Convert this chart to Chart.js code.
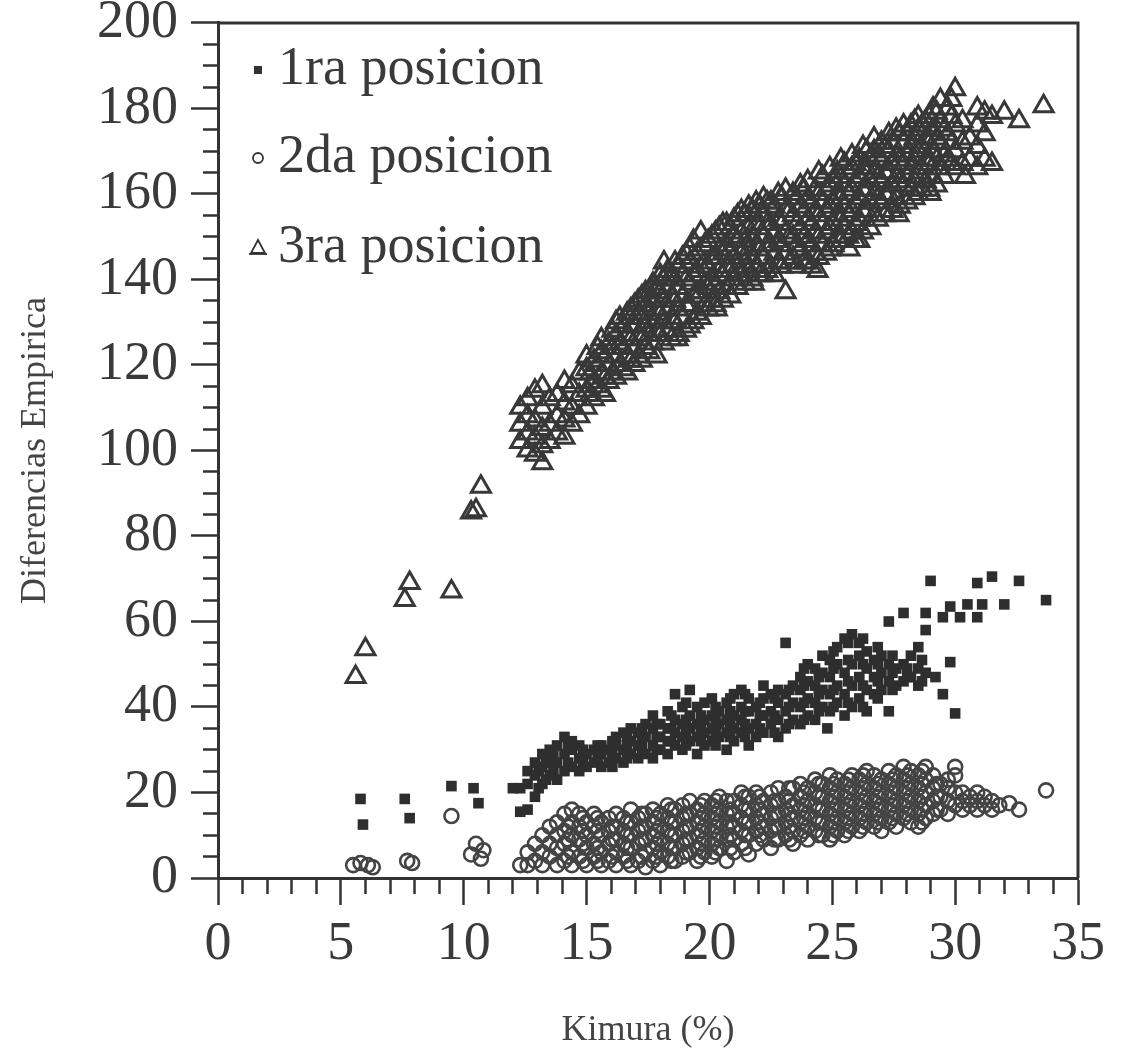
<!DOCTYPE html>
<html>
<head>
<meta charset="utf-8">
<script src="https://cdn.jsdelivr.net/npm/chart.js@4.4.0/dist/chart.umd.min.js"></script>
<style>
  html, body { margin: 0; padding: 0; background: #fff; }
</style>
</head>
<body>
<canvas id="chart" width="1122" height="1064"></canvas>
<script>
// tick labels
const xTickLabels = [0, 5, 10, 15, 20, 25, 30, 35];
const yTickLabels = [0, 20, 40, 60, 80, 100, 120, 140, 160, 180, 200];

const seriesNames = ['1ra posicion', '2da posicion', '3ra posicion'];

// 1ra posicion (squares) [Kimura %, diferencia]
const pos1 = [
  [5.8, 18.5], [5.9, 12.5], [7.6, 18.5], [7.8, 14], [9.5, 21.5], [10.4, 21], [10.6, 17.5],
  [12.0, 21], [12.3, 15.5], [12.3, 21], [12.6, 16], [12.6, 22], [12.6, 25],
  [12.9, 19], [12.9, 24], [12.9, 27], [13.2, 22], [13.2, 26], [13.2, 29],
  [13.5, 24], [13.5, 27], [13.5, 30], [13.8, 23], [13.8, 27], [13.8, 31],
  [14.1, 25], [14.1, 29], [14.1, 33], [14.4, 26], [14.4, 30], [14.4, 32],
  [14.7, 25], [14.7, 28], [14.7, 31], [15.0, 26], [15.0, 29], [15.3, 27], [15.3, 30],
  [15.6, 26], [15.6, 29], [15.6, 31], [15.9, 27], [15.9, 30],
  [16.2, 28], [16.2, 31], [16.2, 33], [16.5, 27], [16.5, 30], [16.5, 34],
  [16.8, 29], [16.8, 32], [16.8, 35], [17.1, 28], [17.1, 31], [17.1, 34],
  [17.4, 29], [17.4, 33], [17.4, 36], [17.7, 28], [17.7, 31], [17.7, 35], [17.7, 38],
  [18.0, 30], [18.0, 33], [18.0, 36], [18.3, 29], [18.3, 32], [18.3, 35], [18.3, 39],
  [18.6, 31], [18.6, 34], [18.6, 37], [18.6, 43], [18.9, 30], [18.9, 33], [18.9, 36], [18.9, 40],
  [19.2, 32], [19.2, 35], [19.2, 38], [19.2, 44], [19.5, 29], [19.5, 33], [19.5, 36], [19.5, 40],
  [19.8, 31], [19.8, 34], [19.8, 37], [19.8, 41], [20.1, 32], [20.1, 35], [20.1, 38], [20.1, 42],
  [20.4, 33], [20.4, 36], [20.4, 39], [20.7, 30], [20.7, 34], [20.7, 37], [20.7, 41],
  [21.0, 32], [21.0, 35], [21.0, 38], [21.0, 43], [21.3, 34], [21.3, 37], [21.3, 40], [21.3, 44],
  [21.6, 31], [21.6, 35], [21.6, 39], [21.6, 42], [21.9, 33], [21.9, 36], [21.9, 40],
  [22.2, 34], [22.2, 38], [22.2, 42], [22.2, 45], [22.5, 36], [22.5, 39], [22.5, 43],
  [22.8, 33], [22.8, 37], [22.8, 41], [22.8, 44], [23.1, 35], [23.1, 39], [23.1, 43], [23.1, 55],
  [23.4, 37], [23.4, 41], [23.4, 45], [23.7, 36], [23.7, 40], [23.7, 44], [23.7, 47],
  [24.0, 38], [24.0, 42], [24.0, 46], [24.0, 50], [24.3, 37], [24.3, 41], [24.3, 45], [24.3, 49],
  [24.6, 40], [24.6, 44], [24.6, 48], [24.6, 52], [24.8, 35],
  [24.9, 39], [24.9, 43], [24.9, 47], [24.9, 51], [25.2, 41], [25.2, 45], [25.2, 50], [25.2, 54],
  [25.5, 38], [25.5, 43], [25.5, 48], [25.5, 56], [25.8, 40], [25.8, 45], [25.8, 50], [25.8, 57],
  [26.1, 42], [26.1, 47], [26.1, 52], [26.1, 55], [26.4, 39], [26.4, 44], [26.4, 49], [26.4, 53],
  [26.7, 43], [26.7, 47], [26.7, 51], [27.0, 44], [27.0, 48], [27.0, 52],
  [27.3, 39], [27.3, 46], [27.3, 50], [27.3, 60], [27.6, 45], [27.6, 49],
  [27.9, 46], [27.9, 50], [27.9, 62], [28.2, 47], [28.2, 52], [28.5, 45], [28.5, 49], [28.5, 54],
  [28.8, 48], [28.8, 58], [28.8, 62], [29.0, 69.5], [29.2, 47], [29.5, 43], [29.5, 61],
  [29.8, 50.5], [29.8, 63.5], [30.0, 38.5], [30.2, 61], [30.5, 64], [30.9, 61], [30.9, 69],
  [31.1, 64], [31.5, 70.5], [32.0, 64], [32.6, 69.5], [33.7, 65],
  // in-between points of the dense band
  [13.05, 21], [13.05, 25], [13.35, 23], [13.35, 28], [13.65, 25], [13.65, 29],
  [14.25, 27], [14.25, 31], [14.85, 27], [14.85, 30], [15.45, 28], [15.45, 31],
  [16.05, 26], [16.05, 29], [16.05, 32], [16.65, 28], [16.65, 31], [16.65, 33],
  [17.25, 30], [17.25, 32], [17.25, 35], [17.85, 30], [17.85, 33], [17.85, 36],
  [18.45, 32], [18.45, 35], [18.45, 38], [19.05, 31], [19.05, 34], [19.05, 37], [19.05, 41],
  [19.65, 32], [19.65, 35], [19.65, 38], [20.25, 31], [20.25, 34], [20.25, 37], [20.25, 40],
  [20.85, 33], [20.85, 36], [20.85, 39], [20.85, 42], [21.45, 33], [21.45, 36], [21.45, 39], [21.45, 43],
  [22.05, 35], [22.05, 38], [22.05, 41], [22.65, 34], [22.65, 38], [22.65, 42],
  [23.25, 36], [23.25, 40], [23.25, 44], [23.85, 37], [23.85, 41], [23.85, 45], [23.85, 49],
  [24.45, 39], [24.45, 43], [24.45, 47], [25.05, 40], [25.05, 44], [25.05, 49], [25.05, 53],
  [25.65, 41], [25.65, 46], [25.65, 51], [25.65, 55], [26.25, 40], [26.25, 45], [26.25, 50], [26.25, 56],
  [26.85, 42], [26.85, 46], [26.85, 50], [26.85, 54], [27.45, 44], [27.45, 48], [27.45, 52],
  [28.05, 47], [28.05, 49], [28.65, 46], [28.65, 51]
];

// 2da posicion (circles)
const pos2 = [
  [5.5, 3], [5.8, 3.5], [6.1, 3], [6.3, 2.5], [7.7, 4], [7.9, 3.5], [9.5, 14.5],
  [10.3, 5.5], [10.5, 8], [10.7, 4.5], [10.8, 6.5],
  [12.3, 3], [12.6, 3], [12.6, 6], [12.9, 4], [12.9, 8], [13.2, 3], [13.2, 6], [13.2, 10],
  [13.5, 5], [13.5, 8], [13.5, 12], [13.8, 3], [13.8, 7], [13.8, 10], [13.8, 13],
  [14.1, 4], [14.1, 8], [14.1, 11], [14.1, 15], [14.4, 3], [14.4, 6], [14.4, 10], [14.4, 13], [14.4, 16],
  [14.7, 5], [14.7, 9], [14.7, 12], [14.7, 15], [15.0, 3], [15.0, 7], [15.0, 10], [15.0, 13],
  [15.3, 5], [15.3, 8], [15.3, 12], [15.3, 15], [15.6, 3], [15.6, 6], [15.6, 10], [15.6, 13],
  [15.9, 4], [15.9, 8], [15.9, 11], [15.9, 14], [16.2, 3], [16.2, 6], [16.2, 9], [16.2, 12], [16.2, 15],
  [16.5, 5], [16.5, 8], [16.5, 11], [16.5, 14], [16.8, 3], [16.8, 7], [16.8, 10], [16.8, 13], [16.8, 16],
  [17.1, 4], [17.1, 8], [17.1, 11], [17.1, 14], [17.4, 2.5], [17.4, 6], [17.4, 9], [17.4, 12], [17.4, 15],
  [17.7, 4], [17.7, 7], [17.7, 10], [17.7, 13], [17.7, 16], [18.0, 3], [18.0, 6], [18.0, 9], [18.0, 12], [18.0, 15],
  [18.3, 5], [18.3, 8], [18.3, 11], [18.3, 14], [18.3, 17], [18.6, 4], [18.6, 7], [18.6, 10], [18.6, 13], [18.6, 16],
  [18.9, 5], [18.9, 8], [18.9, 11], [18.9, 14], [18.9, 17], [19.2, 6], [19.2, 9], [19.2, 12], [19.2, 15], [19.2, 18],
  [19.5, 4], [19.5, 7], [19.5, 10], [19.5, 13], [19.5, 16], [19.8, 6], [19.8, 9], [19.8, 12], [19.8, 15], [19.8, 18],
  [20.1, 5], [20.1, 8], [20.1, 11], [20.1, 14], [20.1, 17], [20.4, 7], [20.4, 10], [20.4, 13], [20.4, 16], [20.4, 19],
  [20.7, 4], [20.7, 9], [20.7, 12], [20.7, 15], [20.7, 18], [21.0, 6], [21.0, 9], [21.0, 12], [21.0, 15], [21.0, 18],
  [21.3, 8], [21.3, 11], [21.3, 14], [21.3, 17], [21.3, 20], [21.6, 5.5], [21.6, 10], [21.6, 13], [21.6, 16], [21.6, 19],
  [21.9, 8], [21.9, 11], [21.9, 14], [21.9, 17], [21.9, 20], [22.2, 9], [22.2, 12], [22.2, 15], [22.2, 18],
  [22.5, 7], [22.5, 11], [22.5, 14], [22.5, 17], [22.5, 20], [22.8, 9], [22.8, 12], [22.8, 15], [22.8, 18], [22.8, 21],
  [23.1, 10], [23.1, 13], [23.1, 16], [23.1, 19], [23.4, 8], [23.4, 11], [23.4, 14], [23.4, 17], [23.4, 21],
  [23.7, 10], [23.7, 13], [23.7, 16], [23.7, 19], [23.7, 22], [24.0, 9], [24.0, 12], [24.0, 15], [24.0, 18], [24.0, 21],
  [24.3, 11], [24.3, 14], [24.3, 17], [24.3, 20], [24.3, 23], [24.6, 10], [24.6, 13], [24.6, 16], [24.6, 19], [24.6, 22],
  [24.9, 9], [24.9, 12], [24.9, 15], [24.9, 18], [24.9, 21], [24.9, 24], [25.2, 11], [25.2, 14], [25.2, 17], [25.2, 20], [25.2, 23],
  [25.5, 10], [25.5, 13], [25.5, 16], [25.5, 19], [25.5, 22], [25.8, 12], [25.8, 15], [25.8, 18], [25.8, 21], [25.8, 24],
  [26.1, 11], [26.1, 14], [26.1, 17], [26.1, 20], [26.1, 23], [26.4, 13], [26.4, 16], [26.4, 19], [26.4, 22], [26.4, 25],
  [26.7, 12], [26.7, 15], [26.7, 18], [26.7, 21], [26.7, 24], [27.0, 11], [27.0, 14], [27.0, 17], [27.0, 20], [27.0, 23],
  [27.3, 13], [27.3, 16], [27.3, 19], [27.3, 22], [27.3, 25], [27.6, 12], [27.6, 15], [27.6, 18], [27.6, 21], [27.6, 24],
  [27.9, 14], [27.9, 17], [27.9, 20], [27.9, 23], [27.9, 26], [28.2, 13], [28.2, 16], [28.2, 19], [28.2, 22], [28.2, 25],
  [28.5, 12], [28.5, 15], [28.5, 18], [28.5, 21], [28.5, 24], [28.8, 14], [28.8, 17], [28.8, 20], [28.8, 23], [28.8, 26],
  [29.1, 15], [29.1, 18], [29.1, 21], [29.1, 24], [29.4, 16], [29.4, 19], [29.4, 22],
  [29.7, 15], [29.7, 18], [29.7, 21], [29.7, 23], [30.0, 17], [30.0, 20], [30.0, 24], [30.0, 26],
  [30.3, 16], [30.3, 18], [30.3, 20], [30.6, 17], [30.6, 19], [30.9, 16], [30.9, 18], [30.9, 20],
  [31.2, 17], [31.2, 19], [31.5, 16], [31.5, 18], [31.8, 17], [32.2, 17.5], [32.6, 16], [33.7, 20.5],
  // in-between points of the dense band
  [14.25, 5], [14.25, 9], [14.25, 12], [14.85, 4], [14.85, 8], [14.85, 11], [14.85, 14],
  [15.45, 4], [15.45, 7], [15.45, 11], [15.45, 14], [16.05, 5], [16.05, 9], [16.05, 12],
  [16.65, 4], [16.65, 7], [16.65, 10], [16.65, 13], [17.25, 5], [17.25, 9], [17.25, 12], [17.25, 15],
  [17.85, 5], [17.85, 8], [17.85, 11], [17.85, 14], [18.45, 4], [18.45, 7], [18.45, 10], [18.45, 13], [18.45, 16],
  [19.05, 6], [19.05, 9], [19.05, 12], [19.05, 15], [19.65, 5], [19.65, 8], [19.65, 11], [19.65, 14], [19.65, 17],
  [20.25, 6], [20.25, 9], [20.25, 12], [20.25, 15], [20.25, 18], [20.85, 7], [20.85, 10], [20.85, 13], [20.85, 16],
  [21.45, 7], [21.45, 10], [21.45, 13], [21.45, 16], [21.45, 19], [22.05, 10], [22.05, 13], [22.05, 16], [22.05, 19],
  [22.65, 9], [22.65, 12], [22.65, 15], [22.65, 18], [23.25, 9], [23.25, 12], [23.25, 15], [23.25, 18], [23.25, 21],
  [23.85, 11], [23.85, 14], [23.85, 17], [23.85, 20], [24.45, 10], [24.45, 13], [24.45, 16], [24.45, 19], [24.45, 22],
  [25.05, 10], [25.05, 13], [25.05, 16], [25.05, 19], [25.05, 22], [25.65, 11], [25.65, 14], [25.65, 17], [25.65, 20], [25.65, 23],
  [26.25, 12], [26.25, 15], [26.25, 18], [26.25, 21], [26.25, 24], [26.85, 13], [26.85, 16], [26.85, 19], [26.85, 22],
  [27.45, 14], [27.45, 17], [27.45, 20], [27.45, 23], [28.05, 15], [28.05, 18], [28.05, 21], [28.05, 24],
  [28.65, 13], [28.65, 16], [28.65, 19], [28.65, 22], [28.65, 25], [29.25, 16], [29.25, 19], [29.25, 22]
];

// 3ra posicion (triangles)
const pos3 = [
  [5.6, 47], [6.0, 53.5], [7.6, 65], [7.8, 69], [9.5, 67], [10.3, 85.5], [10.5, 86], [10.7, 91.5],
  [12.3, 102], [12.3, 106], [12.3, 110], [12.6, 100], [12.6, 104], [12.6, 108], [12.6, 112],
  [12.9, 99], [12.9, 103], [12.9, 107], [12.9, 114], [13.2, 97], [13.2, 101], [13.2, 105], [13.2, 110], [13.2, 115],
  [13.5, 102], [13.5, 106], [13.5, 112], [13.8, 104], [13.8, 108], [13.8, 113],
  [14.1, 103], [14.1, 107], [14.1, 111], [14.1, 116], [14.4, 106], [14.4, 110], [14.4, 115],
  [14.7, 108], [14.7, 113], [14.7, 118], [15.0, 110], [15.0, 114], [15.0, 119], [15.0, 122],
  [15.3, 112], [15.3, 116], [15.3, 121], [15.6, 114], [15.6, 118], [15.6, 123], [15.6, 126],
  [15.9, 116], [15.9, 120], [15.9, 125], [16.2, 117], [16.2, 122], [16.2, 127], [16.2, 130],
  [16.5, 119], [16.5, 124], [16.5, 129], [16.8, 121], [16.8, 126], [16.8, 131], [16.8, 133],
  [17.1, 122], [17.1, 127], [17.1, 132], [17.1, 135], [17.4, 124], [17.4, 129], [17.4, 134], [17.4, 137],
  [17.7, 125], [17.7, 130], [17.7, 135], [17.7, 139], [18.0, 127], [18.0, 132], [18.0, 137], [18.0, 141],
  [18.3, 128], [18.3, 133], [18.3, 138], [18.3, 142], [18.6, 130], [18.6, 135], [18.6, 140], [18.6, 144],
  [18.9, 131], [18.9, 136], [18.9, 141], [18.9, 145], [19.2, 129], [19.2, 134], [19.2, 139], [19.2, 144], [19.2, 147],
  [19.5, 132], [19.5, 137], [19.5, 142], [19.5, 146], [19.8, 134], [19.8, 139], [19.8, 144], [19.8, 148],
  [20.1, 135], [20.1, 140], [20.1, 145], [20.1, 150], [20.4, 137], [20.4, 142], [20.4, 147], [20.4, 152],
  [20.7, 138], [20.7, 143], [20.7, 148], [20.7, 153], [21.0, 140], [21.0, 145], [21.0, 150], [21.0, 154],
  [21.3, 141], [21.3, 146], [21.3, 151], [21.3, 156], [21.6, 142], [21.6, 147], [21.6, 152], [21.6, 157],
  [21.9, 143], [21.9, 148], [21.9, 153], [21.9, 158], [22.2, 141], [22.2, 145], [22.2, 150], [22.2, 155], [22.2, 159],
  [22.5, 143], [22.5, 148], [22.5, 153], [22.5, 158], [22.8, 144], [22.8, 149], [22.8, 154], [22.8, 160],
  [23.1, 137], [23.1, 146], [23.1, 151], [23.1, 156], [23.1, 161], [23.4, 145], [23.4, 150], [23.4, 155], [23.4, 160],
  [23.7, 147], [23.7, 152], [23.7, 157], [23.7, 162], [24.0, 144], [24.0, 149], [24.0, 154], [24.0, 159], [24.0, 163],
  [24.3, 146], [24.3, 151], [24.3, 156], [24.3, 161], [24.6, 148], [24.6, 153], [24.6, 158], [24.6, 164],
  [24.9, 147], [24.9, 152], [24.9, 157], [24.9, 162], [24.9, 166], [25.2, 150], [25.2, 155], [25.2, 160], [25.2, 165],
  [25.5, 152], [25.5, 157], [25.5, 162], [25.5, 167], [25.8, 151], [25.8, 156], [25.8, 161], [25.8, 166], [25.8, 169],
  [26.1, 154], [26.1, 159], [26.1, 164], [26.1, 168], [26.4, 156], [26.4, 161], [26.4, 166], [26.4, 170],
  [26.7, 155], [26.7, 160], [26.7, 165], [26.7, 170], [26.7, 173], [27.0, 158], [27.0, 163], [27.0, 168], [27.0, 172],
  [27.3, 160], [27.3, 165], [27.3, 170], [27.3, 174], [27.6, 159], [27.6, 164], [27.6, 169], [27.6, 175],
  [27.9, 162], [27.9, 167], [27.9, 172], [27.9, 176], [28.2, 161], [28.2, 166], [28.2, 171], [28.2, 176],
  [28.5, 160], [28.5, 165], [28.5, 170], [28.5, 175], [28.5, 178], [28.8, 163], [28.8, 168], [28.8, 173], [28.8, 177],
  [29.1, 164], [29.1, 170], [29.1, 175], [29.1, 180], [29.4, 166], [29.4, 172], [29.4, 177], [29.4, 182],
  [29.7, 168], [29.7, 174], [29.7, 180], [30.0, 166], [30.0, 170], [30.0, 176], [30.0, 184.5],
  [30.3, 167], [30.3, 172], [30.3, 177], [30.6, 168], [30.6, 173], [30.9, 166], [30.9, 171], [30.9, 176], [30.9, 180],
  [31.2, 168], [31.2, 174], [31.2, 179], [31.5, 167], [31.5, 178], [32.0, 179], [32.6, 177], [33.6, 180.5],
  // in-between points of the dense band
  [15.15, 113], [15.15, 118], [15.45, 115], [15.45, 120], [15.45, 124], [15.75, 113], [15.75, 117], [15.75, 122],
  [16.05, 118], [16.05, 124], [16.05, 128], [16.35, 120], [16.35, 125], [16.35, 131],
  [16.65, 118], [16.65, 122], [16.65, 127], [16.65, 132], [16.95, 120], [16.95, 124], [16.95, 129], [16.95, 134],
  [17.25, 121], [17.25, 126], [17.25, 131], [17.25, 136], [17.55, 123], [17.55, 127], [17.55, 132], [17.55, 137],
  [17.85, 122], [17.85, 128], [17.85, 133], [17.85, 138], [18.15, 125], [18.15, 130], [18.15, 135], [18.15, 140], [18.15, 144],
  [18.45, 126], [18.45, 131], [18.45, 136], [18.45, 141], [18.75, 127], [18.75, 133], [18.75, 138], [18.75, 143],
  [19.05, 128], [19.05, 134], [19.05, 140], [19.05, 146], [19.35, 130], [19.35, 136], [19.35, 141], [19.35, 149],
  [19.65, 131], [19.65, 137], [19.65, 143], [19.65, 151], [19.95, 133], [19.95, 138], [19.95, 143], [19.95, 149],
  [20.25, 134], [20.25, 139], [20.25, 145], [20.25, 151], [20.55, 135], [20.55, 141], [20.55, 146], [20.55, 153],
  [20.85, 136], [20.85, 142], [20.85, 147], [20.85, 152], [21.15, 138], [21.15, 143], [21.15, 149], [21.15, 155],
  [21.45, 139], [21.45, 144], [21.45, 149], [21.45, 155], [21.75, 140], [21.75, 145], [21.75, 150], [21.75, 156],
  [22.05, 141], [22.05, 147], [22.05, 152], [22.05, 157], [22.35, 142], [22.35, 148], [22.35, 153], [22.35, 158],
  [22.65, 141], [22.65, 146], [22.65, 151], [22.65, 157], [22.95, 143], [22.95, 148], [22.95, 153], [22.95, 159],
  [23.25, 144], [23.25, 150], [23.25, 156], [23.55, 143], [23.55, 148], [23.55, 153], [23.55, 159],
  [23.85, 144], [23.85, 150], [23.85, 156], [23.85, 161], [24.15, 143], [24.15, 148], [24.15, 153], [24.15, 158],
  [24.45, 145], [24.45, 150], [24.45, 155], [24.45, 160], [24.45, 165], [24.75, 146], [24.75, 151], [24.75, 156], [24.75, 161],
  [25.05, 148], [25.05, 153], [25.05, 158], [25.05, 163], [25.35, 149], [25.35, 154], [25.35, 159], [25.35, 164], [25.35, 168],
  [25.65, 150], [25.65, 155], [25.65, 160], [25.65, 165], [25.95, 149], [25.95, 153], [25.95, 158], [25.95, 163], [25.95, 167],
  [26.25, 151], [26.25, 156], [26.25, 161], [26.25, 166], [26.25, 171], [26.55, 152], [26.55, 158], [26.55, 163], [26.55, 168],
  [26.85, 154], [26.85, 159], [26.85, 164], [26.85, 169], [27.15, 155], [27.15, 160], [27.15, 165], [27.15, 171],
  [27.45, 156], [27.45, 162], [27.45, 167], [27.45, 172], [27.75, 157], [27.75, 163], [27.75, 168], [27.75, 174],
  [28.05, 158], [28.05, 164], [28.05, 169], [28.05, 174], [28.35, 159], [28.35, 163], [28.35, 168], [28.35, 173], [28.35, 177],
  [28.65, 161], [28.65, 166], [28.65, 171], [28.65, 176], [28.95, 161], [28.95, 167], [28.95, 172], [28.95, 178],
  [29.25, 162], [29.25, 168], [29.25, 173], [29.25, 179], [29.55, 164], [29.55, 169], [29.55, 175],
  [29.85, 167], [29.85, 172], [29.85, 178], [29.85, 182],
  // lower edge of the band
  [18.7, 126], [20.3, 133], [21.8, 139], [24.4, 142], [25.7, 147], [26.1, 149], [27.7, 155], [29.0, 160], [30.4, 164]
];

function toPoints(pairs) {
  return pairs.map((p) => ({ x: p[0], y: p[1] }));
}

// Legend drawn inside the plot, top-left
const insideLegend = {
  id: 'insideLegend',
  afterDraw(chart) {
    const { ctx, chartArea } = chart;
    const rows = [47, 135, 225];
    ctx.save();
    ctx.font = '54px "Liberation Serif"';
    ctx.textBaseline = 'middle';
    chart.data.datasets.forEach((ds, i) => {
      const cy = chartArea.top + rows[i];
      const cx = chartArea.left + 40;
      ctx.fillStyle = '#333';
      ctx.strokeStyle = '#333';
      ctx.lineWidth = 1.8;
      if (ds.pointStyle === 'rect') {
        ctx.fillRect(cx - 4, cy - 4, 8, 8);
      } else if (ds.pointStyle === 'circle') {
        ctx.beginPath();
        ctx.arc(cx, cy, 5, 0, Math.PI * 2);
        ctx.stroke();
      } else {
        ctx.beginPath();
        ctx.moveTo(cx, cy - 8);
        ctx.lineTo(cx + 7, cy + 5);
        ctx.lineTo(cx - 7, cy + 5);
        ctx.closePath();
        ctx.stroke();
        ctx.beginPath();
        ctx.moveTo(cx - 9, cy + 6);
        ctx.lineTo(cx + 9, cy + 6);
        ctx.stroke();
      }
      ctx.fillStyle = '#3a3a3a';
      ctx.fillText(ds.label, cx + 20, cy);
    });
    ctx.restore();
  }
};

// Top and right sides of the frame
const frame = {
  id: 'frame',
  afterDraw(chart) {
    const { ctx, chartArea } = chart;
    ctx.save();
    ctx.strokeStyle = '#333';
    ctx.lineWidth = 3;
    ctx.beginPath();
    ctx.moveTo(chartArea.left, chartArea.top);
    ctx.lineTo(chartArea.right, chartArea.top);
    ctx.lineTo(chartArea.right, chartArea.bottom);
    ctx.stroke();
    ctx.restore();
  }
};

new Chart(document.getElementById('chart'), {
  type: 'scatter',
  data: {
    datasets: [
      {
        label: seriesNames[0],
        data: toPoints(pos1),
        pointStyle: 'rect',
        pointRadius: 7.5,
        backgroundColor: '#2e2e2e',
        borderColor: '#2e2e2e',
        borderWidth: 0
      },
      {
        label: seriesNames[1],
        data: toPoints(pos2),
        pointStyle: 'circle',
        pointRadius: 7,
        backgroundColor: 'rgba(255,255,255,0)',
        borderColor: '#444',
        borderWidth: 2.6
      },
      {
        label: seriesNames[2],
        data: toPoints(pos3),
        pointStyle: 'triangle',
        pointRadius: 11,
        backgroundColor: 'rgba(255,255,255,0)',
        borderColor: '#383838',
        borderWidth: 3
      }
    ]
  },
  options: {
    responsive: false,
    animation: false,
    layout: { padding: { top: 0, right: 42, bottom: 0, left: 0 } },
    plugins: {
      legend: { display: false },
      tooltip: { enabled: false }
    },
    scales: {
      x: {
        type: 'linear',
        min: 0,
        max: 35,
        afterFit(scale) { scale.height = 186; },
        border: { color: '#333', width: 3 },
        grid: {
          drawOnChartArea: false,
          tickLength: 27,
          tickWidth: 2.5,
          tickColor: '#333',
          tickBorderDash: (ctx) => (ctx.tick && xTickLabels.includes(ctx.tick.value)) ? [] : [14, 100]
        },
        ticks: {
          stepSize: 1,
          autoSkip: false,
          maxRotation: 0,
          padding: 17,
          color: '#3a3a3a',
          font: { family: '"Liberation Serif"', size: 54, lineHeight: 0.85 },
          callback: (v) => xTickLabels.includes(v) ? String(v) : ''
        },
        title: {
          display: true,
          text: 'Kimura (%)',
          color: '#444',
          font: { family: '"Liberation Serif"', size: 36 },
          padding: { top: 0, bottom: 12 }
        }
      },
      y: {
        type: 'linear',
        min: 0,
        max: 200,
        afterFit(scale) { scale.width = 218; },
        border: { color: '#333', width: 3 },
        grid: {
          drawOnChartArea: false,
          tickLength: 27,
          tickWidth: 2.5,
          tickColor: '#333',
          tickBorderDash: (ctx) => (ctx.tick && yTickLabels.includes(ctx.tick.value)) ? [] : [0, 12, 15, 100]
        },
        ticks: {
          stepSize: 5,
          autoSkip: false,
          padding: 13,
          color: '#3a3a3a',
          font: { family: '"Liberation Serif"', size: 54, lineHeight: 0.37 },
          callback: (v) => yTickLabels.includes(v) ? String(v) : ''
        },
        title: {
          display: true,
          text: 'Diferencias Empirica',
          color: '#444',
          font: { family: '"Liberation Serif"', size: 36 },
          padding: { top: 14, bottom: 0 }
        }
      }
    }
  },
  plugins: [insideLegend, frame]
});
</script>
</body>
</html>
